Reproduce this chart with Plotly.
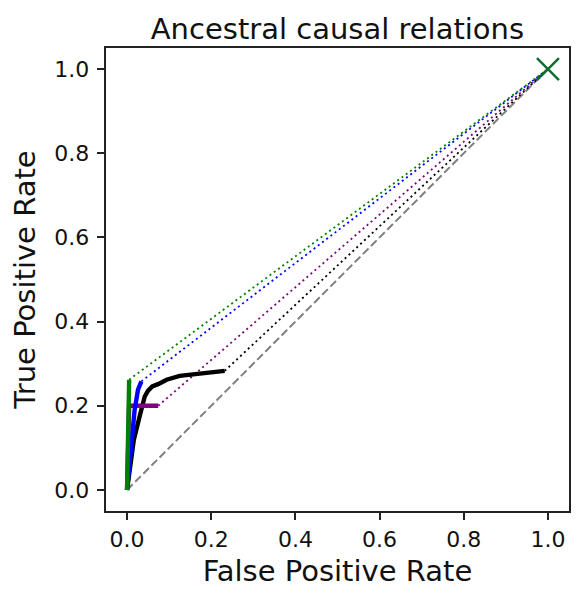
import plotly.graph_objects as go

# ROC-style curves (FPR, TPR)
black_fpr = [0.0, 0.008, 0.016, 0.030, 0.042, 0.050, 0.060, 0.075, 0.094, 0.125, 0.173, 0.232]
black_tpr = [0.0, 0.060, 0.119, 0.175, 0.222, 0.236, 0.246, 0.252, 0.262, 0.271, 0.277, 0.283]

purple_fpr = [0.0, 0.003, 0.005, 0.074]
purple_tpr = [0.0, 0.190, 0.200, 0.200]

blue_fpr = [0.0, 0.003, 0.006, 0.014, 0.018, 0.026, 0.034]
blue_tpr = [0.0, 0.030, 0.071, 0.143, 0.190, 0.238, 0.258]

green_fpr = [0.0, 0.001, 0.003, 0.005]
green_tpr = [0.0, 0.100, 0.200, 0.262]

end_point = (1.0, 1.0)

tick_vals = [0.0, 0.2, 0.4, 0.6, 0.8, 1.0]
tick_text = ["0.0", "0.2", "0.4", "0.6", "0.8", "1.0"]

FONT = "DejaVu Sans, sans-serif"
fig = go.Figure()

# chance diagonal
fig.add_trace(go.Scatter(x=[0.0, 1.0], y=[0.0, 1.0], mode="lines",
                         line=dict(color="#808080", width=2, dash="8px,3.5px")))

curves = [
    (black_fpr, black_tpr, "black"),
    (purple_fpr, purple_tpr, "purple"),
    (blue_fpr, blue_tpr, "blue"),
    (green_fpr, green_tpr, "green"),
]

# dotted extension from last point to (1, 1)
for fx, ty, col in curves:
    fig.add_trace(go.Scatter(x=[fx[-1], end_point[0]], y=[ty[-1], end_point[1]],
                             mode="lines",
                             line=dict(color=col, width=1.8, dash="2px,3.3px")))

for fx, ty, col in curves:
    fig.add_trace(go.Scatter(x=fx, y=ty, mode="lines",
                             line=dict(color=col, width=4.4)))

fig.add_trace(go.Scatter(x=[end_point[0]], y=[end_point[1]], mode="markers",
                         marker=dict(symbol="x-thin", size=22,
                                     line=dict(color="#0b6e2c", width=2.4))))

axis_common = dict(
    range=[-0.05, 1.05], tickvals=tick_vals, ticktext=tick_text,
    showgrid=False, zeroline=False, showline=True, mirror=True,
    linecolor="#222222", linewidth=1.8,
    ticks="outside", ticklen=7.5, tickwidth=1.8, tickcolor="#222222",
    tickfont=dict(family=FONT, size=22, color="#111111"),
)

fig.update_xaxes(**axis_common, ticklabelstandoff=0,
                 title=dict(text="False Positive Rate", standoff=10,
                            font=dict(family=FONT, size=29, color="#111111")))
fig.update_yaxes(**axis_common, ticklabelstandoff=3,
                 title=dict(text="True Positive Rate", standoff=17,
                            font=dict(family=FONT, size=29, color="#111111")))

# page body adds an 8px offset, so the figure is drawn 8px smaller
fig.update_layout(
    width=578, height=593,
    showlegend=False,
    plot_bgcolor="white", paper_bgcolor="white",
    margin=dict(l=98, r=17, t=40, b=90, autoexpand=False),
    title=dict(text="Ancestral causal relations", x=0.57, xanchor="center",
               y=0.965, yanchor="middle", yref="container",
               font=dict(family=FONT, size=29, color="#111111")),
)

fig.write_html("out.html")
